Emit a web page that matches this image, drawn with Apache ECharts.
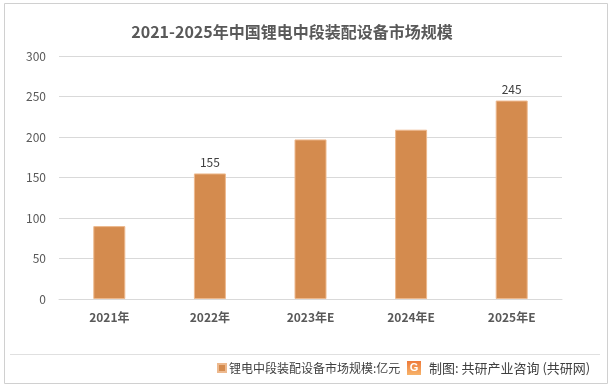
<!DOCTYPE html>
<html><head><meta charset="utf-8">
<script src="https://cdn.jsdelivr.net/npm/echarts@6/dist/echarts.min.js"></script>
<style>html,body{margin:0;padding:0;background:#fff}#c{width:613px;height:388px}</style>
</head><body><div id="c"></div>
<script>
var categories = ['2021年','2022年','2023年E','2024年E','2025年E'];
var values = [90, 155, 197, 209, 245];
var labelShown = [false, true, false, false, true];
var seriesName = '锂电中段装配设备市场规模:亿元';
var titleText = '2021-2025年中国锂电中段装配设备市场规模';
var sourceText = '制图: 共研产业咨询 (共研网)';

var chart = echarts.init(document.getElementById('c'));
var font = '"Microsoft YaHei","Noto Sans CJK SC",sans-serif';
chart.setOption({
  animation: false,
  backgroundColor: '#fff',
  title: {text: titleText, left: 287, top: 19, textAlign: 'center',
    textStyle: {fontSize: 16, fontWeight: 'bold', color: '#595959', fontFamily: font}},
  grid: {left: 59, right: 51, top: 56, bottom: 89, containLabel: false},
  legend: {data: [seriesName], left: 212, top: 357, itemWidth: 8, itemHeight: 8, icon: 'rect', itemGap: 4,
    textStyle: {fontSize: 12, color: '#404040', fontFamily: font, padding: [0,0,0,-2]}},
  xAxis: {type: 'category', data: categories,
    axisLine: {lineStyle: {color: '#d9d9d9'}}, axisTick: {show: false},
    axisLabel: {color: '#595959', fontSize: 12, fontWeight: 'bold', margin: 12, fontFamily: font}},
  yAxis: {type: 'value', min: 0, max: 300, interval: 50,
    axisLine: {show: false}, axisTick: {show: false},
    splitLine: {lineStyle: {color: '#d9d9d9'}},
    axisLabel: {color: '#595959', fontSize: 12, margin: 13, fontFamily: font}},
  series: [{name: seriesName, type: 'bar', barWidth: 32,
    data: values.map(function(v, i){ return {value: v, label: {show: labelShown[i]}}; }),
    itemStyle: {color: '#D48B4E', borderColor: '#EDB98E', borderWidth: 1},
    label: {position: 'top', distance: 5, color: '#404040', fontSize: 12, fontFamily: font}
  }],
  graphic: [
    {type: 'rect', shape: {x: 4.5, y: 3.5, width: 603, height: 380}, style: {fill: 'none', stroke: '#d0d0d0', lineWidth: 1}, silent: true},
    {type: 'line', shape: {x1: 10, y1: 354.5, x2: 600, y2: 354.5}, style: {stroke: '#e0e0e0', lineWidth: 1}},
    {type: 'rect', shape: {x: 407, y: 361, width: 14, height: 14}, style: {fill: new echarts.graphic.LinearGradient(0,0,0,1,[{offset:0,color:'#EE7A3A'},{offset:1,color:'#F7B36A'}])}},
    {type: 'text', style: {x: 414, y: 368, text: 'G', fill: '#fff', font: 'bold 11px sans-serif', align: 'center', verticalAlign: 'middle'}},
    {type: 'text', style: {x: 429, y: 368, text: sourceText, fill: '#404040', font: '13px ' + font, verticalAlign: 'middle'}}
  ]
});
</script></body></html>
